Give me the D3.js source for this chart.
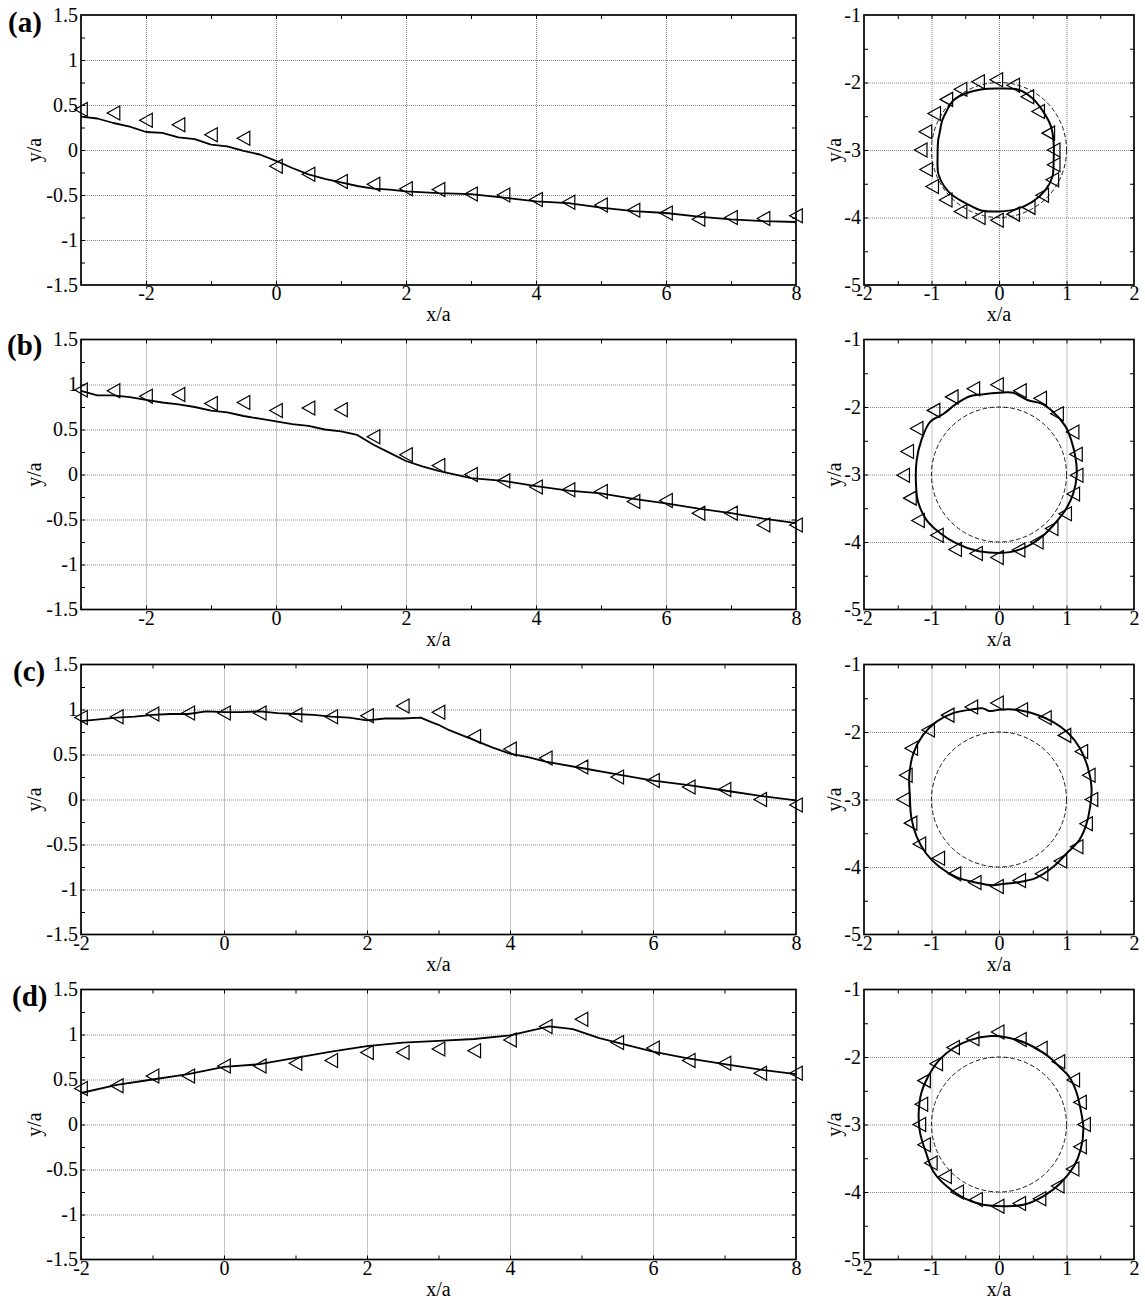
<!DOCTYPE html>
<html>
<head>
<meta charset="utf-8">
<script src="https://cdn.jsdelivr.net/npm/d3@7"></script>
<style>
  body { margin: 0; background: #fff; }
  svg { display: block; }
  text { font-family: "Liberation Serif", "Times New Roman", serif; fill: #000; }
</style>
</head>
<body>
<svg id="fig" width="1145" height="1298"></svg>
<script>
// ---------- panel labels ----------
const panelNames = ["(a)", "(b)", "(c)", "(d)"];

// ---------- trajectories y/a vs x/a (solid lines) ----------
const trajA = [[-3,0.37],[-2.75,0.35],[-2.5,0.30],[-2.25,0.26],[-2,0.20],[-1.75,0.19],[-1.5,0.14],[-1.25,0.12],
  [-1,0.06],[-0.75,0.04],[-0.5,-0.01],[-0.25,-0.05],[0,-0.12],[0.25,-0.20],[0.5,-0.27],[0.75,-0.32],[1,-0.36],
  [1.25,-0.40],[1.5,-0.43],[1.75,-0.44],[2,-0.46],[2.5,-0.48],[3,-0.49],[3.5,-0.53],[4,-0.57],[4.5,-0.59],
  [5,-0.64],[5.5,-0.68],[6,-0.70],[6.5,-0.74],[7,-0.77],[7.5,-0.79],[8,-0.80]];
const trajB = [[-3,0.93],[-2.75,0.88],[-2.5,0.88],[-2.25,0.86],[-2,0.83],[-1.75,0.80],[-1.5,0.78],[-1.25,0.75],
  [-1,0.71],[-0.75,0.69],[-0.5,0.65],[-0.25,0.62],[0,0.59],[0.25,0.56],[0.5,0.54],[0.75,0.50],[1,0.48],
  [1.25,0.44],[1.5,0.33],[1.75,0.24],[2,0.15],[2.25,0.09],[2.5,0.04],[3,-0.04],[3.5,-0.07],[4,-0.13],
  [4.5,-0.18],[5,-0.21],[5.5,-0.27],[6,-0.32],[6.5,-0.38],[7,-0.43],[7.5,-0.49],[8,-0.54]];
const trajC = [[-2,0.87],[-1.75,0.89],[-1.5,0.91],[-1.25,0.92],[-1,0.94],[-0.75,0.95],[-0.5,0.95],[-0.25,0.98],
  [0,0.97],[0.25,0.97],[0.5,0.98],[0.75,0.96],[1,0.95],[1.25,0.94],[1.5,0.92],[1.75,0.91],[2,0.88],[2.25,0.90],
  [2.5,0.90],[2.75,0.91],[2.9,0.86],[3,0.83],[3.15,0.77],[3.5,0.66],[3.75,0.58],[4,0.51],[4.25,0.47],[4.5,0.42],
  [5,0.35],[5.5,0.28],[6,0.21],[6.5,0.16],[7,0.10],[7.5,0.04],[8,-0.01]];
const trajD = [[-2,0.35],[-1.5,0.44],[-1,0.50],[-0.5,0.56],[0,0.64],[0.5,0.67],[1,0.74],[1.5,0.81],[2,0.87],
  [2.5,0.91],[3,0.93],[3.5,0.95],[4,0.99],[4.55,1.09],[4.88,1.06],[5.25,0.96],[5.5,0.91],[6,0.81],[6.45,0.74],
  [7,0.67],[7.5,0.61],[8,0.56]];

// ---------- measured positions (triangles) ----------
const markXab = [-3,-2.5,-2,-1.5,-1,-0.5,0,0.5,1,1.5,2,2.5,3,3.5,4,4.5,5,5.5,6,6.5,7,7.5,8];
const markXcd = [-2,-1.5,-1,-0.5,0,0.5,1,1.5,2,2.5,3,3.5,4,4.5,5,5.5,6,6.5,7,7.5,8];
const markA = [0.45,0.41,0.33,0.28,0.17,0.13,-0.18,-0.27,-0.35,-0.38,-0.43,-0.44,-0.49,-0.50,-0.55,-0.58,
  -0.61,-0.67,-0.70,-0.77,-0.75,-0.76,-0.73];
const markB = [0.94,0.93,0.87,0.89,0.79,0.80,0.71,0.74,0.72,0.42,0.22,0.10,0.00,-0.07,-0.14,-0.17,-0.19,
  -0.30,-0.29,-0.43,-0.43,-0.56,-0.56];
const markC = [0.91,0.92,0.95,0.96,0.96,0.96,0.94,0.92,0.93,1.04,0.97,0.70,0.56,0.46,0.36,0.25,0.21,0.14,
  0.11,0.00,-0.06];
const markD = [0.40,0.43,0.54,0.54,0.65,0.65,0.68,0.71,0.80,0.80,0.84,0.82,0.94,1.09,1.17,0.91,0.85,0.71,
  0.68,0.57,0.57];

// ---------- cross-section outlines (solid closed curves) ----------
const ringA = [[0,-2.09],[0.30,-2.11],[0.49,-2.23],[0.64,-2.41],[0.77,-2.65],[0.81,-2.90],[0.81,-3.15],
  [0.79,-3.40],[0.69,-3.59],[0.49,-3.77],[0.25,-3.88],[0,-3.91],[-0.25,-3.90],[-0.49,-3.79],[-0.69,-3.67],
  [-0.81,-3.54],[-0.90,-3.35],[-0.91,-3.10],[-0.90,-2.85],[-0.88,-2.75],[-0.84,-2.56],[-0.77,-2.41],
  [-0.67,-2.26],[-0.49,-2.16],[-0.25,-2.10]];
const ringB = [[0,-1.79],[0.21,-1.79],[0.43,-1.90],[0.63,-1.95],[0.80,-2.07],[0.98,-2.28],[1.07,-2.49],
  [1.14,-2.79],[1.15,-3.03],[1.10,-3.28],[1.00,-3.50],[0.85,-3.70],[0.66,-3.90],[0.41,-4.07],[0.16,-4.15],
  [-0.08,-4.16],[-0.33,-4.13],[-0.63,-4.02],[-0.87,-3.87],[-1.07,-3.68],[-1.20,-3.40],[-1.23,-3.13],
  [-1.22,-2.79],[-1.15,-2.49],[-1.02,-2.22],[-0.82,-2.10],[-0.63,-1.95],[-0.43,-1.84],[-0.23,-1.81]];
const ringC = [[0,-1.67],[0.26,-1.67],[0.55,-1.74],[0.80,-1.85],[1.02,-2.01],[1.20,-2.24],[1.32,-2.54],
  [1.37,-2.81],[1.35,-3.11],[1.29,-3.38],[1.19,-3.60],[1.00,-3.80],[0.80,-4.00],[0.55,-4.16],[0.26,-4.23],
  [0.06,-4.25],[-0.09,-4.27],[-0.34,-4.23],[-0.63,-4.15],[-0.88,-4.00],[-1.08,-3.80],[-1.22,-3.55],
  [-1.30,-3.26],[-1.32,-2.96],[-1.33,-2.66],[-1.27,-2.32],[-1.13,-2.05],[-0.93,-1.85],[-0.68,-1.72],
  [-0.43,-1.67],[-0.24,-1.65],[-0.14,-1.69],[-0.06,-1.68]];
const ringD = [[-0.12,-1.69],[0.12,-1.71],[0.41,-1.80],[0.66,-1.94],[0.81,-2.06],[0.91,-2.16],[1.03,-2.28],
  [1.14,-2.50],[1.21,-2.78],[1.25,-3.07],[1.21,-3.37],[1.11,-3.62],[0.91,-3.87],[0.66,-4.06],[0.36,-4.19],
  [0.07,-4.21],[-0.23,-4.19],[-0.52,-4.09],[-0.77,-3.92],[-0.97,-3.70],[-1.08,-3.42],[-1.17,-3.12],
  [-1.19,-2.83],[-1.15,-2.53],[-1.05,-2.29],[-0.88,-2.04],[-0.68,-1.87],[-0.43,-1.75]];

// ---------- measured cross-section points (triangles) ----------
const ringMarkA = [[-0.04,-1.96],[0.21,-2.04],[0.42,-2.21],[0.58,-2.43],[0.73,-2.75],[0.81,-3.00],[0.81,-3.22],
  [0.79,-3.44],[0.64,-3.67],[0.44,-3.85],[0.21,-3.95],[-0.03,-4.04],[-0.30,-4.00],[-0.57,-3.91],[-0.79,-3.74],
  [-0.99,-3.54],[-1.08,-3.29],[-1.16,-3.00],[-1.09,-2.73],[-0.96,-2.46],[-0.78,-2.25],[-0.57,-2.10],[-0.31,-1.99]];
const ringMarkB = [[-0.03,-1.67],[0.31,-1.76],[0.61,-1.87],[0.86,-2.10],[1.09,-2.37],[1.14,-2.70],[1.15,-3.01],
  [1.10,-3.29],[0.98,-3.58],[0.78,-3.80],[0.56,-4.00],[0.29,-4.12],[-0.03,-4.23],[-0.34,-4.17],[-0.65,-4.11],
  [-0.92,-3.90],[-1.20,-3.68],[-1.32,-3.35],[-1.42,-3.01],[-1.36,-2.66],[-1.22,-2.32],[-0.97,-2.05],
  [-0.70,-1.85],[-0.38,-1.73]];
const ringMarkC = [[-0.03,-1.57],[0.33,-1.67],[0.68,-1.79],[0.97,-2.05],[1.22,-2.29],[1.33,-2.64],[1.37,-3.00],
  [1.29,-3.36],[1.15,-3.70],[0.91,-3.91],[0.63,-4.10],[0.30,-4.20],[-0.03,-4.29],[-0.36,-4.23],[-0.66,-4.10],
  [-0.90,-3.87],[-1.18,-3.66],[-1.31,-3.35],[-1.42,-3.00],[-1.38,-2.64],[-1.30,-2.24],[-1.05,-1.97],
  [-0.76,-1.75],[-0.41,-1.63]];
const ringMarkD = [[-0.02,-1.63],[0.31,-1.74],[0.62,-1.87],[0.88,-2.07],[1.10,-2.34],[1.20,-2.67],[1.26,-3.00],
  [1.20,-3.33],[1.09,-3.66],[0.87,-3.91],[0.60,-4.10],[0.30,-4.17],[-0.02,-4.21],[-0.34,-4.11],[-0.62,-4.00],
  [-0.80,-3.77],[-1.01,-3.57],[-1.11,-3.30],[-1.18,-3.00],[-1.15,-2.70],[-1.11,-2.35],[-0.93,-2.10],
  [-0.68,-1.86],[-0.39,-1.73]];

// undisturbed cross-section: circle of radius a about (0,-3a)
const refCircle = { cx: 0, cy: -3, r: 1 };

// ---------- tick values ----------
const trajYLabels = [-1.5, -1, -0.5, 0, 0.5, 1, 1.5];
const trajYGrid = [-1, -0.5, 0, 0.5, 1];
const trajYMinor = [-1.25, -0.75, -0.25, 0.25, 0.75, 1.25];
const trajXLabels = [-2, 0, 2, 4, 6, 8];
const trajXGrid = [-2, 0, 2, 4, 6];
const trajXMinorAB = [-3, -1, 1, 3, 5, 7];
const trajXMinorCD = [-1, 1, 3, 5, 7];
const secXLabels = [-2, -1, 0, 1, 2];
const secYLabels = [-5, -4, -3, -2, -1];
const secXGrid = [-1, 0, 1];
const secYGrid = [-4, -3, -2];
const secXMinor = [-1.5, -0.5, 0.5, 1.5];
const secYMinor = [-4.5, -3.5, -2.5, -1.5];

const rows = [
  { name: panelNames[0], traj: trajA, markX: markXab, markY: markA, xDom: [-3, 8], xMinor: trajXMinorAB, ring: ringA, ringMark: ringMarkA },
  { name: panelNames[1], traj: trajB, markX: markXab, markY: markB, xDom: [-3, 8], xMinor: trajXMinorAB, ring: ringB, ringMark: ringMarkB },
  { name: panelNames[2], traj: trajC, markX: markXcd, markY: markC, xDom: [-2, 8], xMinor: trajXMinorCD, ring: ringC, ringMark: ringMarkC },
  { name: panelNames[3], traj: trajD, markX: markXcd, markY: markD, xDom: [-2, 8], xMinor: trajXMinorCD, ring: ringD, ringMark: ringMarkD }
];

// ---------- layout ----------
const svg = d3.select("#fig");
const rowTop = [15, 339.5, 664.5, 989.5];
const nameX = [8, 7, 13, 12];
const nameDy = [17, 15, 16.5, 16.5];
const plotH = 270;
const leftX0 = 81, leftX1 = 796;
const rightX0 = 864, rightX1 = 1134;
const FS = 20;

const fmt = v => String(v);

// left-pointing open triangle, centred on the point
const tri = "M-6.3,0 L6.3,-7 L6.3,7 Z";

function frameAxes(g, x, y, opt) {
  const [xa, xb] = x.range();
  const [yb, ya] = y.range();
  const w = xb - xa, h = yb - ya;

  // dotted grid
  const gridStyle = s => { s.select(".domain").remove();
    s.selectAll("line").attr("stroke", "#7a7a7a").attr("stroke-width", 0.9).attr("stroke-dasharray", "1,1"); };
  g.append("g").attr("transform", `translate(0,${yb})`)
    .call(d3.axisBottom(x).tickValues(opt.xGrid).tickSize(-h).tickFormat("")).call(gridStyle);
  g.append("g").attr("transform", `translate(${xa},0)`)
    .call(d3.axisLeft(y).tickValues(opt.yGrid).tickSize(-w).tickFormat("")).call(gridStyle);

  // inward ticks on all four sides
  const xt = opt.xGrid.concat(opt.xMinor);
  const yt = opt.yGrid.concat(opt.yMinor);
  const tk = 4;
  const tickStyle = s => { s.select(".domain").remove(); s.selectAll("line").attr("stroke", "#000").attr("stroke-width", 1); };
  g.append("g").attr("transform", `translate(0,${yb})`).call(d3.axisBottom(x).tickValues(xt).tickSize(-tk).tickFormat("")).call(tickStyle);
  g.append("g").attr("transform", `translate(0,${ya})`).call(d3.axisTop(x).tickValues(xt).tickSize(-tk).tickFormat("")).call(tickStyle);
  g.append("g").attr("transform", `translate(${xa},0)`).call(d3.axisLeft(y).tickValues(yt).tickSize(-tk).tickFormat("")).call(tickStyle);
  g.append("g").attr("transform", `translate(${xb},0)`).call(d3.axisRight(y).tickValues(yt).tickSize(-tk).tickFormat("")).call(tickStyle);

  // tick labels
  const lab = s => { s.attr("font-family", null).attr("font-size", null);
    s.select(".domain").remove(); s.selectAll("line").remove();
    s.selectAll("text").attr("font-size", FS).attr("fill", "#000"); };
  g.append("g").attr("transform", `translate(0,${yb})`)
    .call(d3.axisBottom(x).tickValues(opt.xLabels).tickSize(0).tickPadding(1).tickFormat(fmt)).call(lab);
  g.append("g").attr("transform", `translate(${xa},0)`)
    .call(d3.axisLeft(y).tickValues(opt.yLabels).tickSize(0).tickPadding(3).tickFormat(fmt)).call(lab);

  // frame
  g.append("rect").attr("x", xa).attr("y", ya).attr("width", w).attr("height", h)
    .attr("fill", "none").attr("stroke", "#000").attr("stroke-width", 1.7);

  // axis titles
  g.append("text").attr("x", (xa + xb) / 2).attr("y", yb + 36).attr("text-anchor", "middle")
    .attr("font-size", FS).text("x/a");
  g.append("text").attr("transform", `translate(${opt.yTitleX},${(ya + yb) / 2}) rotate(-90)`)
    .attr("text-anchor", "middle").attr("font-size", FS).text("y/a");
}

rows.forEach((r, i) => {
  const top = rowTop[i], bottom = top + plotH;

  // ----- trajectory panel -----
  const gl = svg.append("g");
  const x = d3.scaleLinear().domain(r.xDom).range([leftX0, leftX1]);
  const y = d3.scaleLinear().domain([-1.5, 1.5]).range([bottom, top]);
  frameAxes(gl, x, y, { xGrid: trajXGrid, yGrid: trajYGrid, xMinor: r.xMinor, yMinor: trajYMinor,
    xLabels: trajXLabels, yLabels: trajYLabels, yTitleX: 41 });

  gl.append("path").datum(r.traj)
    .attr("d", d3.line().x(d => x(d[0])).y(d => y(d[1])).curve(d3.curveLinear))
    .attr("fill", "none").attr("stroke", "#000").attr("stroke-width", 1.8).attr("stroke-linejoin", "round");

  gl.append("g").selectAll("path").data(r.markX.map((v, k) => [v, r.markY[k]])).join("path")
    .attr("d", tri).attr("transform", d => `translate(${x(d[0])},${y(d[1])})`)
    .attr("fill", "none").attr("stroke", "#000").attr("stroke-width", 1.2);

  gl.append("text").attr("x", nameX[i]).attr("y", top + nameDy[i])
    .attr("font-size", 29).attr("font-weight", "bold").text(r.name);

  // ----- cross-section panel -----
  const gr = svg.append("g");
  const sx = d3.scaleLinear().domain([-2, 2]).range([rightX0, rightX1]);
  const sy = d3.scaleLinear().domain([-5, -1]).range([bottom, top]);
  frameAxes(gr, sx, sy, { xGrid: secXGrid, yGrid: secYGrid, xMinor: secXMinor, yMinor: secYMinor,
    xLabels: secXLabels, yLabels: secYLabels, yTitleX: 841 });

  gr.append("circle").attr("cx", sx(refCircle.cx)).attr("cy", sy(refCircle.cy))
    .attr("r", sx(refCircle.r) - sx(0))
    .attr("fill", "none").attr("stroke", "#000").attr("stroke-width", 0.9).attr("stroke-dasharray", "4.5,2.5");

  gr.append("path").datum(r.ring)
    .attr("d", d3.line().x(d => sx(d[0])).y(d => sy(d[1])).curve(d3.curveCatmullRomClosed))
    .attr("fill", "none").attr("stroke", "#000").attr("stroke-width", 2);

  gr.append("g").selectAll("path").data(r.ringMark).join("path")
    .attr("d", tri).attr("transform", d => `translate(${sx(d[0])},${sy(d[1])})`)
    .attr("fill", "none").attr("stroke", "#000").attr("stroke-width", 1.2);
});
</script>
</body>
</html>
